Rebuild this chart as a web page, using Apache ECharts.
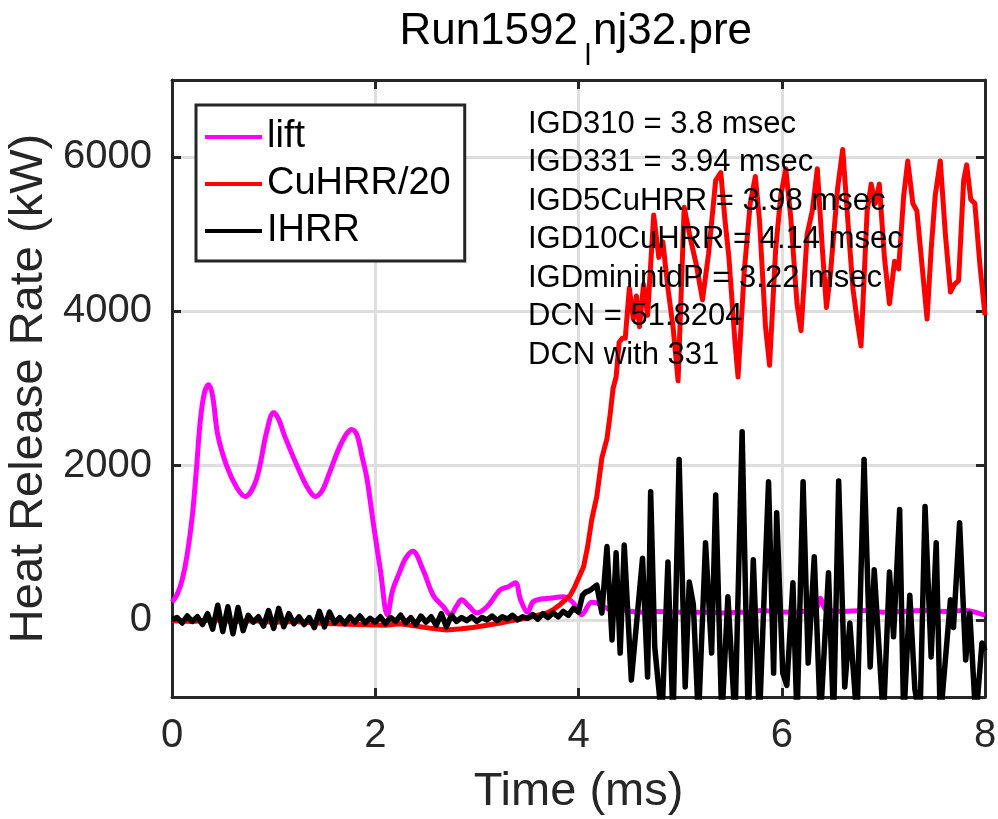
<!DOCTYPE html>
<html>
<head>
<meta charset="utf-8">
<script src="https://cdn.jsdelivr.net/npm/echarts@6/dist/echarts.min.js"></script>
<style>
html,body{margin:0;padding:0;background:#fff;}
#chart{width:998px;height:819px;}
</style>
</head>
<body>
<div id="chart"></div>
<script>
// ---------- data ----------
const titleParts = ['Run1592', 'l', 'nj32.pre'];
const xTicks = [0, 2, 4, 6, 8];
const yTicks = [0, 2000, 4000, 6000];
const seriesNames = ['lift', 'CuHRR/20', 'IHRR'];
const notes = [
  'IGD310 = 3.8 msec',
  'IGD331 = 3.94 msec',
  'IGD5CuHRR = 3.98 msec',
  'IGD10CuHRR = 4.14 msec',
  'IGDminintdP = 3.22 msec',
  'DCN = 51.8204',
  'DCN with 331'
];

const lift = [[0,230],[0.05,330],[0.1,520],[0.15,850],[0.2,1350],[0.24,1950],[0.28,2600],[0.32,2950],[0.36,3050],
[0.4,2900],[0.45,2400],[0.54,1990],[0.64,1710],[0.72,1600],[0.83,1820],[0.93,2430],[1.0,2690],[1.05,2600],[1.11,2380],
[1.26,1910],[1.34,1700],[1.41,1600],[1.48,1680],[1.55,1910],[1.67,2300],[1.77,2470],[1.82,2400],[1.87,2120],[1.92,1820],
[1.98,1260],[2.05,650],[2.12,60],[2.17,380],[2.24,620],[2.3,800],[2.37,890],[2.47,650],[2.57,320],[2.67,170],[2.74,65],
[2.8,180],[2.85,260],[2.92,180],[3.0,90],[3.1,170],[3.23,390],[3.31,430],[3.38,480],[3.43,260],[3.5,100],[3.55,230],
[3.63,270],[3.72,280],[3.85,300],[3.95,220],[4.03,65],[4.13,230],[4.18,220],[4.25,170],[4.32,130],[4.45,120],[4.6,100],
[4.8,110],[5.0,100],[5.2,100],[5.4,90],[5.6,100],[5.8,120],[6.0,100],[6.2,110],[6.33,130],[6.38,280],[6.43,140],[6.6,110],
[6.8,120],[7.0,100],[7.2,110],[7.4,120],[7.6,110],[7.8,120],[7.9,100],[8.0,60]];

const cuhrr = [[0,-10],[0.2,-20],[0.4,0],[0.6,-20],[0.8,-10],[1.0,-30],[1.2,-20],[1.4,-40],[1.6,-50],[1.8,-60],[2.0,-65],
[2.1,-70],[2.24,-50],[2.4,-80],[2.55,-110],[2.7,-130],[2.85,-115],[2.96,-100],[3.1,-70],[3.23,-40],[3.35,-10],[3.49,25],
[3.6,60],[3.69,90],[3.76,140],[3.82,200],[3.87,260],[3.92,320],[3.96,420],[4.0,540],[4.05,690],[4.09,950],[4.13,1300],
[4.18,1600],[4.23,2100],[4.28,2350],[4.31,2650],[4.34,3000],[4.37,3150],[4.4,3600],[4.43,3650],[4.46,3650],[4.5,4300],
[4.54,3900],[4.57,4200],[4.6,3800],[4.64,4350],[4.68,3950],[4.74,5250],[4.79,4700],[4.83,4900],[4.88,4300],[4.93,3800],
[4.98,3100],[5.04,5350],[5.1,4950],[5.16,4600],[5.22,4150],[5.28,4750],[5.35,5700],[5.4,5800],[5.44,5200],[5.48,4700],
[5.54,3600],[5.57,3150],[5.63,4500],[5.69,5400],[5.74,5750],[5.78,5200],[5.84,3800],[5.88,3300],[5.94,4800],[5.99,5500],
[6.04,5850],[6.09,5200],[6.15,4100],[6.19,3750],[6.25,5000],[6.3,5300],[6.35,5850],[6.4,4800],[6.44,4050],[6.48,4500],
[6.55,5600],[6.6,6100],[6.66,5000],[6.7,4300],[6.74,3900],[6.78,3550],[6.84,5300],[6.88,5650],[6.92,5400],[6.96,5650],
[7.01,4700],[7.06,4100],[7.11,4650],[7.15,4550],[7.2,5500],[7.24,5950],[7.29,5400],[7.33,5300],[7.38,4600],[7.43,3900],
[7.47,4800],[7.51,5500],[7.56,5950],[7.61,5000],[7.66,4250],[7.7,4350],[7.74,4400],[7.79,5700],[7.82,5900],[7.86,5450],
[7.9,5400],[7.95,4600],[8.0,3950]];

const ihrr = [[0,0],[0.05,30],[0.1,-40],[0.15,50],[0.2,-20],[0.25,40],[0.3,-60],[0.35,80],[0.4,-120],[0.45,190],[0.5,-150],
[0.55,170],[0.6,-180],[0.65,160],[0.7,-140],[0.75,60],[0.8,-30],[0.85,40],[0.9,-80],[0.95,120],[1.0,-110],[1.05,150],
[1.1,-90],[1.15,80],[1.2,-50],[1.25,40],[1.3,-60],[1.35,30],[1.4,-100],[1.45,110],[1.5,-90],[1.55,100],[1.6,-40],[1.65,30],
[1.7,-50],[1.75,40],[1.8,-30],[1.85,50],[1.9,-40],[1.95,20],[2.0,-30],[2.05,40],[2.1,-50],[2.15,30],[2.2,-20],[2.25,60],
[2.3,-40],[2.35,30],[2.4,-60],[2.45,50],[2.5,-30],[2.55,40],[2.6,-70],[2.65,80],[2.7,-90],[2.75,60],[2.8,-20],[2.85,30],
[2.9,-10],[2.95,40],[3.0,-20],[3.05,30],[3.1,0],[3.15,50],[3.2,-10],[3.25,40],[3.3,10],[3.35,60],[3.4,0],[3.45,40],
[3.5,20],[3.55,70],[3.6,10],[3.65,80],[3.7,30],[3.75,90],[3.8,40],[3.85,110],[3.9,60],[3.95,150],[4.0,100],[4.04,320],
[4.07,360],[4.11,380],[4.18,450],[4.23,90],[4.28,950],[4.33,-260],[4.37,870],[4.41,-430],[4.45,970],[4.52,-780],[4.63,800],
[4.68,-740],[4.71,1660],[4.75,-350],[4.82,-1300],[4.88,750],[4.93,-1300],[4.99,2080],[5.05,-870],[5.09,490],[5.13,200],
[5.18,-1300],[5.25,1000],[5.31,-430],[5.35,1620],[5.41,-1300],[5.47,300],[5.54,-1300],[5.61,2440],[5.67,-1300],[5.72,780],
[5.78,-1300],[5.87,1790],[5.92,-690],[5.95,1390],[6.01,-690],[6.05,-850],[6.11,480],[6.15,-1300],[6.21,1790],[6.26,-560],
[6.32,820],[6.38,-1300],[6.46,610],[6.51,-1300],[6.56,1800],[6.62,-870],[6.67,-40],[6.74,-1300],[6.81,2080],[6.87,-610],
[6.91,650],[6.96,-430],[7.0,-1300],[7.06,620],[7.1,-220],[7.16,1430],[7.2,-1300],[7.26,320],[7.31,-900],[7.36,-1300],
[7.41,1470],[7.47,-480],[7.52,1000],[7.56,-1300],[7.66,260],[7.69,-100],[7.75,1260],[7.81,-520],[7.85,90],[7.91,-1300],
[7.97,-300],[8.0,-400]];

// ---------- chart ----------
const FONT = '"Liberation Sans", Arial, Helvetica, sans-serif';
const AX = '#262626';
const GRIDC = '#dedede';
const chart = echarts.init(document.getElementById('chart'), null, {renderer: 'canvas'});

const axisLineStyle = {show: true, onZero: false, lineStyle: {color: AX, width: 3}};
const tickStyle = {show: true, inside: true, length: 9, lineStyle: {color: AX, width: 3}};
const plain = v => String(v);

const option = {
  animation: false,
  backgroundColor: '#ffffff',
  grid: {left: 172, right: 13, top: 80, bottom: 122, containLabel: false, outerBoundsMode: 'none'},
  legend: {
    data: seriesNames,
    orient: 'vertical',
    left: 196, top: 105,
    icon: 'rect',
    itemWidth: 57, itemHeight: 4, itemGap: 7,
    padding: [12, 14, 10, 9],
    borderColor: AX, borderWidth: 3,
    backgroundColor: '#ffffff',
    textStyle: {fontSize: 38, lineHeight: 40, color: '#000', fontFamily: FONT},
    z: 10
  },
  xAxis: [
    {
      type: 'value', min: 0, max: 8, interval: 2, position: 'bottom',
      axisLine: axisLineStyle, axisTick: tickStyle,
      axisLabel: {fontSize: 40, color: AX, margin: 19, fontFamily: FONT,
        customValues: xTicks, formatter: plain},
      splitLine: {show: true, lineStyle: {color: GRIDC, width: 3}},
      name: 'Time (ms)', nameLocation: 'middle', nameGap: 72,
      nameTextStyle: {fontSize: 47, color: AX, fontFamily: FONT}
    },
    {
      type: 'value', min: 0, max: 8, interval: 2, position: 'top',
      axisLine: axisLineStyle, axisTick: tickStyle,
      axisLabel: {show: false}, splitLine: {show: false}
    }
  ],
  yAxis: [
    {
      type: 'value', min: -1000, max: 7000, position: 'left',
      axisLine: axisLineStyle,
      axisTick: Object.assign({}, tickStyle, {customValues: yTicks}),
      axisLabel: {fontSize: 40, color: AX, margin: 20, fontFamily: FONT, customValues: yTicks, formatter: plain},
      splitLine: {show: true, lineStyle: {color: GRIDC, width: 3}},
      name: 'Heat Release Rate (kW)', nameLocation: 'middle', nameGap: 110,
      nameTextStyle: {fontSize: 47, color: AX, fontFamily: FONT}
    },
    {
      type: 'value', min: -1000, max: 7000, position: 'right',
      axisLine: axisLineStyle,
      axisTick: Object.assign({}, tickStyle, {customValues: yTicks}),
      axisLabel: {show: false}, splitLine: {show: false}
    }
  ],
  series: [
    {name: seriesNames[0], type: 'line', data: lift, smooth: 0.35, showSymbol: false, symbol: 'none',
      lineStyle: {color: '#ff00ff', width: 5}, itemStyle: {color: '#ff00ff'}, z: 2},
    {name: seriesNames[1], type: 'line', data: cuhrr, showSymbol: false, symbol: 'none',
      lineStyle: {color: '#ff0000', width: 5, join: 'round'}, itemStyle: {color: '#ff0000'}, z: 3},
    {name: seriesNames[2], type: 'line', data: ihrr, showSymbol: false, symbol: 'none',
      lineStyle: {color: '#000000', width: 5.5, join: 'round'}, itemStyle: {color: '#000000'}, z: 4}
  ],
  graphic: [
    {type: 'text', x: 578, y: 32, z: 100,
      style: {text: titleParts[0], font: '44px ' + FONT, fill: '#000', align: 'right', verticalAlign: 'middle'}},
    {type: 'text', x: 588, y: 57, z: 100,
      style: {text: titleParts[1], font: '29px ' + FONT, fill: '#000', align: 'center', verticalAlign: 'middle'}},
    {type: 'text', x: 593, y: 32, z: 100,
      style: {text: titleParts[2], font: '44px ' + FONT, fill: '#000', align: 'left', verticalAlign: 'middle'}},
    {type: 'text', x: 528, y: 105, z: 100,
      style: {text: notes.join('\n'), font: '31px ' + FONT, fill: '#000', lineHeight: 38.5,
        align: 'left', verticalAlign: 'top'}}
  ]
};
chart.setOption(option);
</script>
</body>
</html>
